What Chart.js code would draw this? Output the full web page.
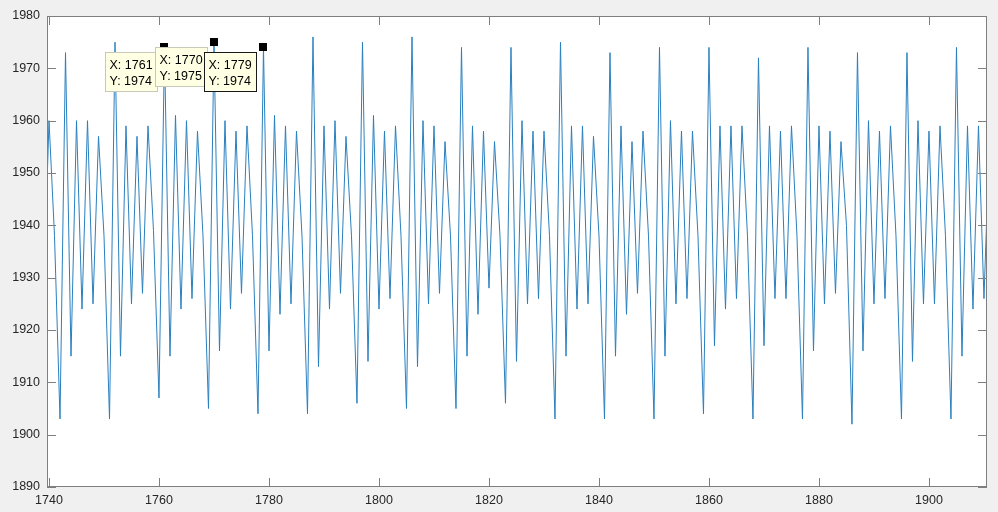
<!DOCTYPE html>
<html><head><meta charset="utf-8">
<script src="https://cdn.jsdelivr.net/npm/chart.js@4.4.1/dist/chart.umd.min.js"></script>
<style>
html,body{margin:0;padding:0;background:#f0f0f0;overflow:hidden;}
#wrap{width:998px;height:512px;position:relative;}
</style></head><body>
<div id="wrap"><canvas id="c" width="998" height="512"></canvas></div>
<script>
const years = [1739,1740,1741,1742,1743,1744,1745,1746,1747,1748,1749,1750,1751,1752,1753,1754,1755,1756,1757,1758,1759,
 1760,1761,1762,1763,1764,1765,1766,1767,1768,1769,1770,1771,1772,1773,1774,1775,1776,1777,1778,1779,
 1780,1781,1782,1783,1784,1785,1786,1787,1788,1789,1790,1791,1792,1793,1794,1795,1796,1797,1798,1799,
 1800,1801,1802,1803,1804,1805,1806,1807,1808,1809,1810,1811,1812,1813,1814,1815,1816,1817,1818,1819,
 1820,1821,1822,1823,1824,1825,1826,1827,1828,1829,1830,1831,1832,1833,1834,1835,1836,1837,1838,1839,
 1840,1841,1842,1843,1844,1845,1846,1847,1848,1849,1850,1851,1852,1853,1854,1855,1856,1857,1858,1859,
 1860,1861,1862,1863,1864,1865,1866,1867,1868,1869,1870,1871,1872,1873,1874,1875,1876,1877,1878,1879,
 1880,1881,1882,1883,1884,1885,1886,1887,1888,1889,1890,1891,1892,1893,1894,1895,1896,1897,1898,1899,
 1900,1901,1902,1903,1904,1905,1906,1907,1908,1909,1910,1911];
const values = [1926,1960,1938,1903,1973,1915,1960,1924,1960,1925,1957,1938,1903,1975,1915,1959,1925,1957,1927,1959,1939,
 1907,1974,1915,1961,1924,1960,1926,1958,1938,1905,1975,1916,1960,1924,1958,1927,1959,1938,1904,1974,
 1916,1961,1923,1959,1925,1958,1938,1904,1976,1913,1959,1924,1960,1927,1957,1938,1906,1975,1914,1961,
 1924,1958,1926,1959,1938,1905,1976,1913,1960,1925,1959,1927,1956,1938,1905,1974,1915,1959,1923,1958,
 1928,1956,1938,1906,1974,1914,1960,1925,1958,1926,1958,1938,1903,1975,1915,1959,1924,1959,1925,1957,
 1938,1903,1973,1915,1959,1923,1956,1927,1958,1938,1903,1974,1915,1960,1925,1958,1926,1958,1938,1904,
 1974,1917,1959,1924,1959,1926,1959,1938,1903,1972,1917,1959,1926,1958,1926,1959,1938,1903,1974,1916,
 1959,1925,1958,1927,1956,1940,1902,1973,1916,1960,1925,1958,1926,1959,1938,1903,1973,1914,1960,1925,
 1958,1925,1959,1938,1903,1974,1915,1959,1924,1959,1926,1957];
const xTickLabels = [1740,1760,1780,1800,1820,1840,1860,1880,1900];
const yTickLabels = [1890,1900,1910,1920,1930,1940,1950,1960,1970,1980];
const tipYears = [1761,1770,1779];
const tipValues = [1974,1975,1974];

const FONT = {family:'"Liberation Sans", Arial, Helvetica, sans-serif', size:12.5};
const TXT = '#262626';
const AXC = '#7f7f7f';

const matlabPlugin = {
  id:'matlab',
  beforeDraw(chart){
    const {ctx, chartArea:a} = chart;
    ctx.save();
    ctx.fillStyle = '#f0f0f0';
    ctx.fillRect(0,0,chart.width,chart.height);
    ctx.fillStyle = '#ffffff';
    ctx.fillRect(a.left,a.top,a.right-a.left,a.bottom-a.top);
    ctx.restore();
  },
  afterDatasetsDraw(chart){
    const {ctx, chartArea:a, scales:{x,y}} = chart;
    ctx.save();
    ctx.strokeStyle = AXC;
    ctx.lineWidth = 1;
    ctx.strokeRect(a.left+0.5,a.top+0.5,a.right-a.left-1,a.bottom-a.top-1);
    const TL = 9;
    ctx.beginPath();
    xTickLabels.forEach(v=>{
      const px = Math.round(x.getPixelForValue(v))+0.5;
      ctx.moveTo(px,a.bottom); ctx.lineTo(px,a.bottom-TL);
      ctx.moveTo(px,a.top); ctx.lineTo(px,a.top+TL);
    });
    yTickLabels.forEach(v=>{
      const py = Math.round(y.getPixelForValue(v))+0.5;
      ctx.moveTo(a.left,py); ctx.lineTo(a.left+TL,py);
      ctx.moveTo(a.right,py); ctx.lineTo(a.right-TL,py);
    });
    ctx.stroke();
    // data tips
    ctx.font = '12.5px "Liberation Sans", Arial, sans-serif';
    ctx.textBaseline = 'middle';
    ctx.textAlign = 'left';
    tipYears.forEach((yr,i)=>{
      const px = x.getPixelForValue(yr), py = y.getPixelForValue(tipValues[i]);
      const bx = Math.round(px-59)+0.5, by = Math.round(py+5)+0.5, bw=52, bh=39;
      ctx.fillStyle = '#ffffe3';
      ctx.fillRect(bx,by,bw,bh);
      ctx.strokeStyle = (i===tipYears.length-1) ? '#1a1a1a' : '#c9c9b8';
      ctx.strokeRect(bx,by,bw,bh);
      ctx.fillStyle = '#000';
      ctx.fillText('X: '+yr, bx+4, by+13);
      ctx.fillText('Y: '+tipValues[i], bx+4, by+29);
      ctx.fillStyle = '#000';
      ctx.fillRect(Math.round(px-4),Math.round(py-4),8,8);
    });
    ctx.restore();
  }
};

new Chart(document.getElementById('c'), {
  type:'line',
  data:{datasets:[{
    data: years.map((yr,i)=>({x:yr,y:values[i]})),
    borderColor:'#2a80bf',
    borderWidth:1,
    pointRadius:0,
    tension:0,
    fill:false
  }]},
  options:{
    responsive:false,
    animation:false,
    devicePixelRatio:1,
    events:[],
    layout:{padding:{left:0,right:11,top:16,bottom:0}},
    plugins:{legend:{display:false},tooltip:{enabled:false}},
    scales:{
      x:{
        type:'linear', min:1739.636, max:1910.55,
        afterBuildTicks:s=>{s.ticks = xTickLabels.map(v=>({value:v}));},
        afterFit:s=>{s.height = 25;},
        grid:{display:false, drawTicks:false}, border:{display:false},
        ticks:{font:FONT,color:TXT,padding:6,maxRotation:0,autoSkip:false,callback:v=>String(v)}
      },
      y:{
        type:'linear', min:1890, max:1980,
        afterBuildTicks:s=>{s.ticks = yTickLabels.map(v=>({value:v}));},
        afterFit:s=>{s.width = 47;},
        grid:{display:false, drawTicks:false}, border:{display:false},
        ticks:{font:FONT,color:TXT,padding:7,autoSkip:false,callback:v=>String(v)}
      }
    }
  },
  plugins:[matlabPlugin]
});
</script>
</body></html>
